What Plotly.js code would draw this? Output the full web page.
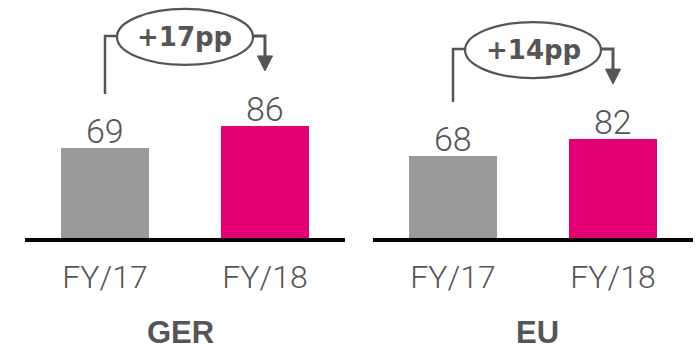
<!DOCTYPE html>
<html>
<head>
<meta charset="utf-8">
<script src="https://cdn.plot.ly/plotly-3.0.1.min.js"></script>
<style>html,body{margin:0;padding:0;background:#fff;}#chart{width:700px;height:349px;}</style>
</head>
<body>
<div id="chart"></div>
<script>
// ---- data ----
const groups = ['GER', 'EU'];
const periods = ['FY/17', 'FY/18'];
const gerValues = [69, 86];
const euValues = [68, 82];
const barColors = ['#999999', '#E20074'];

// ---- layout constants ----
const W = 700, H = 349;
const margin = {l: 25, r: 7, t: 0, b: 111};
const plotH = H - margin.t - margin.b;
const yRanges = [182.6, 197.3];
const domains = [[0, 0.479], [0.521, 1]];
const ink = '#555555';

const seriesByGroup = [gerValues, euValues];

function off(px, rangeMax) { return px * rangeMax / plotH; }

const traces = [];
const shapes = [];
const annotations = [];

groups.forEach(function (g, i) {
  const vals = seriesByGroup[i];
  const xr = i === 0 ? 'x' : 'x2';
  const yr = i === 0 ? 'y' : 'y2';
  const R = yRanges[i];
  traces.push({
    type: 'bar',
    x: periods,
    y: vals,
    xaxis: xr,
    yaxis: yr,
    width: 0.55,
    marker: {color: barColors},
    hoverinfo: 'skip',
    showlegend: false
  });

  // value labels
  periods.forEach(function (p, k) {
    annotations.push({xref: xr, yref: yr, x: p, y: vals[k], yshift: 17,
      text: String(vals[k]), showarrow: false, xanchor: 'center', yanchor: 'middle',
      font: {family: 'Roboto, sans-serif', size: 34, weight: 300, color: ink}});
  });

  const v0 = vals[0];
  const vmax = Math.max(vals[0], vals[1]);
  const v1 = vals[1];
  const topY = vmax + off(90, R);
  const lineStyle = {color: ink, width: 2.5};
  // left bracket
  shapes.push({type: 'path', xref: xr, yref: yr,
    path: 'M 0,' + (v0 + off(54, R)) + ' L 0,' + topY + ' L 0.075,' + topY,
    line: lineStyle});
  // right bracket
  const arrowBase = v1 + off(70, R);
  shapes.push({type: 'path', xref: xr, yref: yr,
    path: 'M 0.925,' + topY + ' L 1,' + topY + ' L 1,' + arrowBase,
    line: {color: ink, width: 3}});
  // arrow head
  shapes.push({type: 'path', xref: xr, yref: yr,
    path: 'M 0.953,' + arrowBase + ' L 1.047,' + arrowBase + ' L 1,' + (v1 + off(55, R)) + ' Z',
    fillcolor: ink, line: {color: ink, width: 1}});
  // ellipse
  shapes.push({type: 'circle', xref: xr, yref: yr,
    x0: 0.075, x1: 0.925,
    y0: vmax + off(61, R), y1: vmax + off(117, R),
    fillcolor: '#ffffff', line: {color: ink, width: 2.2}});
  // change label
  const diff = vals[1] - vals[0];
  annotations.push({xref: xr, yref: yr, x: 0.5, y: vmax + off(89, R),
    text: '+' + diff + 'pp', showarrow: false, xanchor: 'center', yanchor: 'middle',
    font: {family: 'DejaVu Sans, sans-serif', size: 26, weight: 'bold', color: ink}});
  // group title
  annotations.push({xref: xr + ' domain', yref: 'paper', x: 0.5, y: 0,
    yshift: -75, xshift: i === 0 ? -4 : 4,
    text: '<b>' + g + '</b>', showarrow: false, xanchor: 'center', yanchor: 'top',
    font: {family: 'Liberation Sans, Arial, sans-serif', size: 31, color: ink}});
});

const xaxisBase = {
  type: 'category', range: [-0.5, 1.5], fixedrange: true,
  showgrid: false, zeroline: false, showline: true, linecolor: '#000000', linewidth: 4,
  ticks: '', ticklabelstandoff: 8, automargin: false,
  tickfont: {family: 'Roboto, sans-serif', size: 32, weight: 300, color: ink}
};
const yaxisBase = {visible: false, showgrid: false, zeroline: false, fixedrange: true};

const layout = {
  width: W, height: H, margin: margin,
  paper_bgcolor: '#ffffff', plot_bgcolor: '#ffffff',
  xaxis: Object.assign({}, xaxisBase, {domain: domains[0], anchor: 'y'}),
  xaxis2: Object.assign({}, xaxisBase, {domain: domains[1], anchor: 'y2'}),
  yaxis: Object.assign({}, yaxisBase, {range: [0, yRanges[0]], anchor: 'x'}),
  yaxis2: Object.assign({}, yaxisBase, {range: [0, yRanges[1]], anchor: 'x2'}),
  shapes: shapes,
  annotations: annotations,
  showlegend: false
};

Plotly.newPlot('chart', traces, layout, {displayModeBar: false, staticPlot: true});
</script>
</body>
</html>
